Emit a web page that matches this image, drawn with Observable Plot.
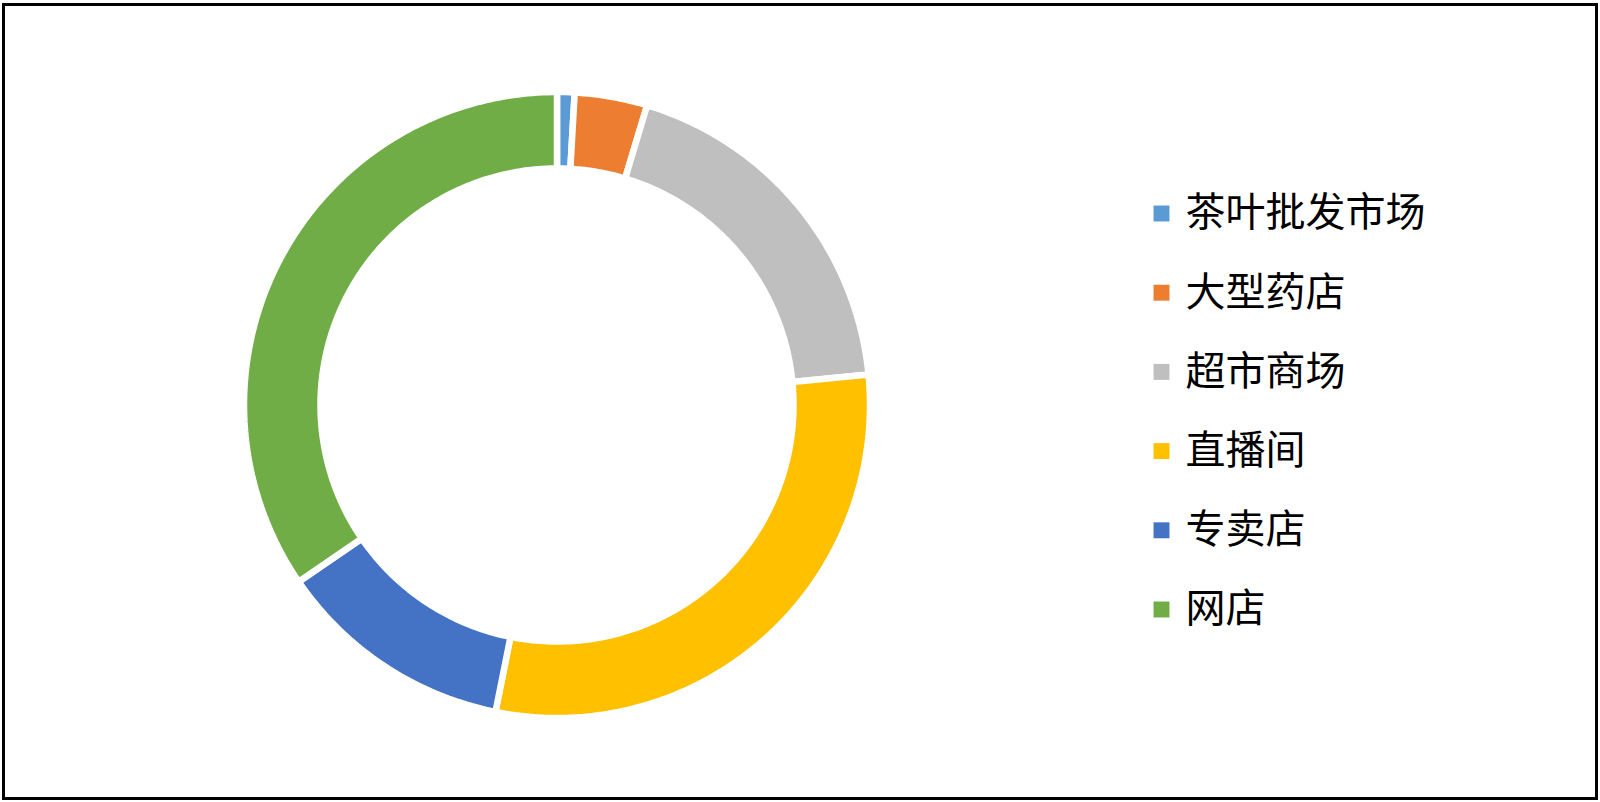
<!DOCTYPE html>
<html><head><meta charset="utf-8">
<script src="https://cdn.jsdelivr.net/npm/d3@7"></script>
<script src="https://cdn.jsdelivr.net/npm/@observablehq/plot@0.6"></script>
<style>
html,body{margin:0;padding:0;background:#fff;}
#chart{position:absolute;left:0;top:0;}
#frame{position:absolute;left:2px;top:3px;width:1596px;height:797px;border:3px solid #000;box-sizing:border-box;pointer-events:none;}
</style></head><body>
<div id="chart"></div><div id="frame"></div>
<script>
// Data
const categories = ["茶叶批发市场", "大型药店", "超市商场", "直播间", "专卖店", "网店"];
const shares = [0.9, 3.75, 18.8, 29.7, 12.3, 34.55];
const colors = ["#5B9BD5", "#ED7D31", "#BFBFBF", "#FFC000", "#4472C4", "#70AD47"];

const W = 1600, H = 802;
const cx = 556.5, cy = 404.5, R = 313, r0 = 236.5;

const data = categories.map((name, i) => ({name, value: shares[i]}));
const arcs = d3.pie().sort(null).value(d => d.value)(data);

// polygon outline points for each ring segment
const pts = [];
for (const a of arcs) {
  const n = Math.max(4, Math.ceil((a.endAngle - a.startAngle) / (Math.PI * 2) * 400));
  const ring = [];
  for (let k = 0; k <= n; k++) {
    const t = a.startAngle + (a.endAngle - a.startAngle) * k / n;
    ring.push({name: a.data.name, x: cx + R * Math.sin(t), y: cy - R * Math.cos(t)});
  }
  for (let k = n; k >= 0; k--) {
    const t = a.startAngle + (a.endAngle - a.startAngle) * k / n;
    ring.push({name: a.data.name, x: cx + r0 * Math.sin(t), y: cy - r0 * Math.cos(t)});
  }
  ring.push({...ring[0]});
  pts.push(...ring);
}

const legend = categories.map((name, i) => ({name, y: 213 + i * 79.2}));

const font = "'Noto Sans CJK SC', 'Noto Sans', sans-serif";

const chart = Plot.plot({
  width: W, height: H,
  marginTop: 0, marginRight: 0, marginBottom: 0, marginLeft: 0,
  x: {domain: [0, W], range: [0, W], axis: null},
  y: {domain: [0, H], range: [0, H], axis: null},
  color: {type: "ordinal", domain: categories, range: colors},
  style: {background: "transparent", fontFamily: font},
  marks: [
    Plot.line(pts, {x: "x", y: "y", z: "name", fill: "name", stroke: "white", strokeWidth: 6.5, strokeLinejoin: "miter"}),
    Plot.dot(legend, {x: () => 1161, y: "y", symbol: "square", r: 9, fill: "name", stroke: null}),
    Plot.text(legend, {x: () => 1185, y: "y", text: "name", textAnchor: "start", fontSize: 40, fill: "#000", fontFamily: font})
  ]
});
document.getElementById("chart").append(chart);
</script>
</body></html>
